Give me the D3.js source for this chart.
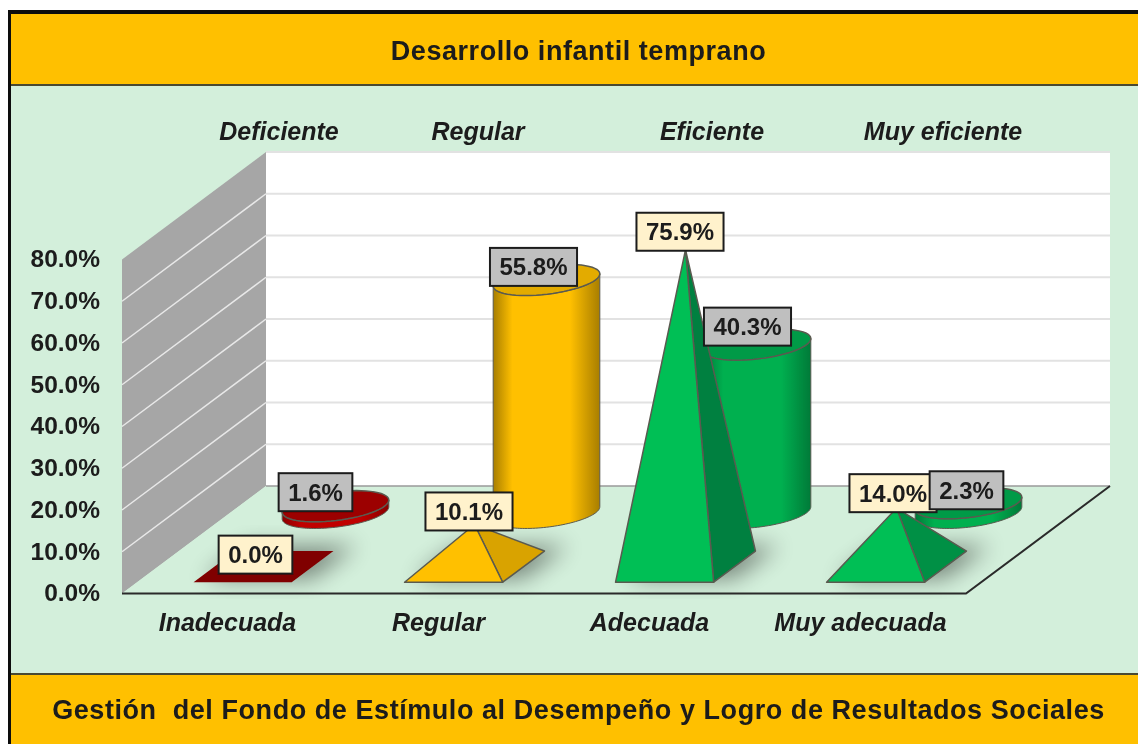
<!DOCTYPE html>
<html>
<head>
<meta charset="utf-8">
<script src="https://cdn.jsdelivr.net/npm/d3@7"></script>
<style>
  html, body { margin: 0; padding: 0; background: #fff; }
  svg { display: block; }
  text { font-family: "Liberation Sans", Arial, sans-serif; fill: #1a1a1a; white-space: pre; }
</style>
</head>
<body>
<script>
// Data
var categories = ["Inadecuada", "Regular", "Adecuada", "Muy adecuada"];
var backNames = ["Deficiente", "Regular", "Eficiente", "Muy eficiente"];
var pyramidValues = [0.0, 10.1, 75.9, 14.0];
var cylinderValues = [1.6, 55.8, 40.3, 2.3];
var yTicks = [0, 10, 20, 30, 40, 50, 60, 70, 80];
var titleText = "Desarrollo infantil temprano";
var footerText = "Gestión  del Fondo de Estímulo al Desempeño y Logro de Resultados Sociales";

var width = 1138, height = 744;

var svg = d3.select("body").append("svg")
    .attr("width", width)
    .attr("height", height);

var defs = svg.append("defs");
defs.append("filter").attr("id", "soft").attr("x", "-30%").attr("y", "-60%").attr("width", "160%").attr("height", "220%")
  .append("feGaussianBlur").attr("stdDeviation", 11);
defs.append("filter").attr("id", "scan").attr("x", 0).attr("y", 0).attr("width", "100%").attr("height", "100%")
  .append("feGaussianBlur").attr("stdDeviation", 0.6);

var page = svg.append("g").attr("filter", "url(#scan)");

// Frame and bands
page.append("rect").attr("x", 8).attr("y", 10).attr("width", width).attr("height", height).attr("fill", "#0d0d0d");
page.append("rect").attr("x", 11).attr("y", 14).attr("width", width).attr("height", 70).attr("fill", "#FFC000");
page.append("rect").attr("x", 11).attr("y", 84).attr("width", width).attr("height", 2).attr("fill", "#4a4a30");
page.append("rect").attr("x", 11).attr("y", 86).attr("width", width).attr("height", 587).attr("fill", "#D3EFDB");
page.append("rect").attr("x", 11).attr("y", 673).attr("width", width).attr("height", 2).attr("fill", "#4a4a30");
page.append("rect").attr("x", 11).attr("y", 675).attr("width", width).attr("height", 70).attr("fill", "#FFC000");

page.append("text").attr("x", 578.5).attr("y", 60).attr("text-anchor", "middle")
    .attr("font-size", 27).attr("font-weight", "bold").attr("letter-spacing", 0.55).text(titleText);
page.append("text").attr("x", 578.5).attr("y", 719).attr("text-anchor", "middle")
    .attr("font-size", 27).attr("font-weight", "bold").attr("letter-spacing", 0.56).text(footerText);

// Scales: front plane plus a depth shear
var x = d3.scaleBand().domain(categories).range([122, 966]).paddingInner(0.535).paddingOuter(0.2675);
var y = d3.scaleLinear().domain([0, 80]).range([593.5, 259.5]);
var depthX = d3.scaleLinear().domain([0, 1]).range([0, 144]);
var depthY = d3.scaleLinear().domain([0, 1]).range([0, -107.5]);
var line = d3.line();

function pt(px, value, depth) {
  return [px + depthX(depth), y(value) + depthY(depth)];
}
function poly(points) { return line(points) + "Z"; }

// Walls and floor
var xL = x.range()[0], xR = x.range()[1];
var plot = page.append("g");
plot.append("path").attr("fill", "#fff")
    .attr("d", poly([pt(xL, 80, 1), pt(xR, 80, 1), pt(xR, 0, 1), pt(xL, 0, 1)]));
plot.append("path").attr("fill", "#A6A6A6")
    .attr("d", poly([pt(xL, 80, 0), pt(xL, 80, 1), pt(xL, 0, 1), pt(xL, 0, 0)]));
plot.append("path").attr("fill", "#D3EFDB")
    .attr("d", poly([pt(xL, 0, 0), pt(xL, 0, 1), pt(xR, 0, 1), pt(xR, 0, 0)]));

yTicks.forEach(function(t) {
  if (t === 0) return;
  plot.append("path").attr("fill", "none").attr("stroke", "#E2E2E2").attr("stroke-width", 2)
      .attr("d", line([pt(xL, t, 1), pt(xR, t, 1)]));
  if (t === 80) return;
  plot.append("path").attr("fill", "none").attr("stroke", "#E8E8E8").attr("stroke-width", 1.5)
      .attr("d", line([pt(xL, t, 0), pt(xL, t, 1)]));
});
plot.append("path").attr("fill", "none").attr("stroke", "#9a9a9a").attr("stroke-width", 1.5)
    .attr("d", line([pt(xL, 0, 1), pt(xR, 0, 1)]));
plot.append("path").attr("fill", "none").attr("stroke", "#2b2b2b").attr("stroke-width", 2)
    .attr("d", line([pt(xR, 0, 1), pt(xR, 0, 0), pt(xL, 0, 0)]));

// Value axis
var axis = page.append("g")
    .attr("transform", "translate(" + (xL - 22) + ",0)")
    .call(d3.axisLeft(y).tickValues(yTicks).tickSize(0).tickFormat(function(d) { return d3.format(".1f")(d) + "%"; }));
axis.select(".domain").remove();
axis.selectAll("text").attr("font-size", 24.5).attr("font-weight", "bold")
    .attr("font-family", '"Liberation Sans", Arial, sans-serif').attr("x", 0).attr("dy", "0.3em");

// Category labels, front edge
page.append("g").selectAll("text").data(categories).enter().append("text")
    .attr("x", function(d) { return x(d) + x.bandwidth() / 2; })
    .attr("y", 631).attr("text-anchor", "middle")
    .attr("font-size", 25).attr("font-weight", "bold").attr("font-style", "italic")
    .text(function(d) { return d; });

// Back row names sit in hand placed text boxes
var backNameX = [279, 478, 712, 943];
page.append("g").selectAll("text").data(backNames).enter().append("text")
    .attr("x", function(d, i) { return backNameX[i]; })
    .attr("y", 140).attr("text-anchor", "middle")
    .attr("font-size", 25).attr("font-weight", "bold").attr("font-style", "italic")
    .text(function(d) { return d; });

var frontDepth = 0.25, backDepth = 0.75, halfDepth = 0.145;
var frontFill = ["#800000", "#FFC000", "#00BF55", "#00BF55"];
var sideFill = ["#800000", "#D9A300", "#008040", "#009044"];
var cylMain = ["#C00000", "#FFC000", "#00B050", "#00B050"];
var cylEdge = ["#8a0000", "#A87E00", "#007A38", "#007A38"];
var cylTop = ["#9C0000", "#E3AB00", "#009A46", "#009A46"];
var edge = "#5a5a50";

// Floor shadows
var shadows = page.append("g").attr("filter", "url(#soft)").attr("fill", "#000").attr("opacity", 0.42);
categories.forEach(function(c) {
  var a = x(c) + 6, b = a + x.bandwidth() + 10;
  shadows.append("path").attr("d", poly([
    pt(a, 0, frontDepth - halfDepth + 0.03), pt(b, 0, frontDepth - halfDepth + 0.03),
    pt(b, 0, frontDepth + halfDepth + 0.05), pt(a, 0, frontDepth + halfDepth + 0.05)]));
});

// Cylinders, back row
categories.forEach(function(c, i) {
  var v = cylinderValues[i], cx = x(c) + x.bandwidth() / 2;
  var base = pt(cx, 0, backDepth), top = pt(cx, v, backDepth);
  var ux = x.bandwidth() / 2, vx = depthX(halfDepth), vy = depthY(halfDepth);
  var t0 = Math.atan2(vx, ux);
  function ring(c0, from, to) {
    return d3.range(0, 61).map(function(k) {
      var t = from + (to - from) * k / 60;
      return [c0[0] + ux * Math.cos(t) + vx * Math.sin(t), c0[1] + vy * Math.sin(t)];
    });
  }
  var grad = defs.append("linearGradient").attr("id", "cyl" + i);
  [[0, cylEdge[i]], [0.18, cylMain[i]], [0.72, cylMain[i]], [1, cylEdge[i]]].forEach(function(s) {
    grad.append("stop").attr("offset", s[0]).attr("stop-color", s[1]);
  });
  var body = ring(base, t0, t0 - Math.PI).concat(ring(top, t0 - Math.PI, t0));
  page.append("path").attr("d", poly(body)).attr("fill", "url(#cyl" + i + ")")
      .attr("stroke", edge).attr("stroke-width", 1);
  page.append("path").attr("d", poly(ring(top, 0, 2 * Math.PI))).attr("fill", cylTop[i])
      .attr("stroke", edge).attr("stroke-width", 1.5);
});

// Pyramids, front row
categories.forEach(function(c, i) {
  var v = pyramidValues[i], a = x(c), b = a + x.bandwidth(), cx = (a + b) / 2;
  var fl = pt(a, 0, frontDepth - halfDepth), fr = pt(b, 0, frontDepth - halfDepth);
  var br = pt(b, 0, frontDepth + halfDepth), bl = pt(a, 0, frontDepth + halfDepth);
  var apex = pt(cx, v, frontDepth);
  if (v === 0) {
    page.append("path").attr("d", poly([fl, fr, br, bl])).attr("fill", frontFill[i]);
    return;
  }
  page.append("path").attr("d", poly([fr, br, apex])).attr("fill", sideFill[i])
      .attr("stroke", edge).attr("stroke-width", 1.5).attr("stroke-linejoin", "round");
  page.append("path").attr("d", poly([fl, fr, apex])).attr("fill", frontFill[i])
      .attr("stroke", edge).attr("stroke-width", 1.5).attr("stroke-linejoin", "round");
});

// Value labels, each nudged from the top of its mark as in the original
var pyramidNudge = [[-8, -12], [-5.5, -13], [-5.5, -18], [-3.5, -15]];
var cylinderNudge = [[-20, -14], [-13, -13], [-10, -18], [-2, -13]];

function valueLabel(v, anchor, nudge, fill) {
  var g = page.append("g").attr("transform", "translate(" + (anchor[0] + nudge[0]) + "," + (anchor[1] + nudge[1]) + ")");
  var box = g.append("rect").attr("fill", fill).attr("stroke", "#1c1c1c").attr("stroke-width", 2);
  var t = g.append("text").attr("text-anchor", "middle").attr("y", 8.5)
      .attr("font-size", 24).attr("font-weight", "bold").text(d3.format(".1f")(v) + "%");
  var w = t.node().getComputedTextLength() + 19;
  box.attr("x", -w / 2).attr("y", -19).attr("width", w).attr("height", 38);
}
categories.forEach(function(c, i) {
  valueLabel(pyramidValues[i], pt(x(c) + x.bandwidth() / 2, pyramidValues[i], frontDepth), pyramidNudge[i], "#FFF2CC");
});
categories.forEach(function(c, i) {
  valueLabel(cylinderValues[i], pt(x(c) + x.bandwidth() / 2, cylinderValues[i], backDepth), cylinderNudge[i], "#BFBFBF");
});
</script>
</body>
</html>
